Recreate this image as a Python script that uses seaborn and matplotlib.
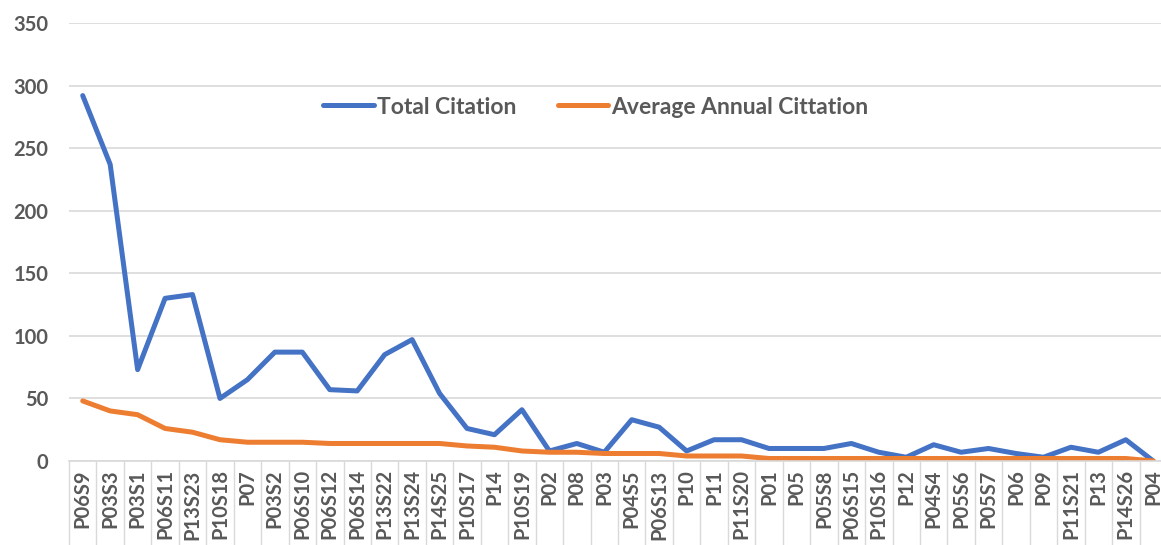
import numpy as np
import pandas as pd
import matplotlib
matplotlib.use("Agg")
import matplotlib.pyplot as plt
import seaborn as sns

categories = ["P06S9", "P03S3", "P03S1", "P06S11", "P13S23", "P10S18", "P07", "P03S2",
              "P06S10", "P06S12", "P06S14", "P13S22", "P13S24", "P14S25", "P10S17", "P14",
              "P10S19", "P02", "P08", "P03", "P04S5", "P06S13", "P10", "P11", "P11S20",
              "P01", "P05", "P05S8", "P06S15", "P10S16", "P12", "P04S4", "P05S6", "P05S7",
              "P06", "P09", "P11S21", "P13", "P14S26", "P04"]
total_citation = [292, 237, 73, 130, 133, 50, 65, 87, 87, 57, 56, 85, 97, 54, 26, 21,
                  41, 8, 14, 7, 33, 27, 8, 17, 17, 10, 10, 10, 14, 7, 3, 13, 7, 10,
                  6, 3, 11, 7, 17, 0]
avg_annual = [48, 40, 37, 26, 23, 17, 15, 15, 15, 14, 14, 14, 14, 14, 12, 11,
              8, 7, 7, 6, 6, 6, 4, 4, 4, 2, 2, 2, 2, 2, 2, 2, 2, 2,
              2, 2, 2, 2, 2, 0]
series_names = ["Total Citation", "Average Annual Cittation"]
y_ticks = [0, 50, 100, 150, 200, 250, 300, 350]

df = pd.DataFrame({
    "Paper": categories * 2,
    "Citations": total_citation + avg_annual,
    "Series": [series_names[0]] * len(categories) + [series_names[1]] * len(categories),
})
df["pos"] = list(range(len(categories))) * 2

sns.set_theme(style="white")
plt.rcParams["font.family"] = ["Lato", "DejaVu Sans"]
text_color = "#595959"
grid_color = "#d9d9d9"

fig = plt.figure(figsize=(11.61, 5.45), dpi=100)
ax = fig.add_axes([69 / 1161, 1 - 461 / 545, (1167 - 69) / 1161, (461 - 23) / 545])

sns.lineplot(data=df, x="pos", y="Citations", hue="Series",
             palette=["#4472C4", "#ED7D31"], linewidth=3.6, ax=ax,
             legend=True, sort=False)

ax.set_xlim(-0.5, len(categories) - 0.5)
ax.set_ylim(0, 350)
ax.set_yticks(y_ticks)
ax.set_yticklabels([str(v) for v in y_ticks], fontsize=14.5, fontweight="bold",
                   color=text_color)
ax.set_xticks(range(len(categories)))
ax.set_xticklabels(categories, rotation=90, fontsize=14.5, fontweight="bold",
                   color=text_color, va="top")
ax.set_xticks(np.arange(-0.5, len(categories), 1), minor=True)
ax.tick_params(axis="x", which="major", length=0, pad=6)
ax.tick_params(axis="x", which="minor", length=62, width=1, color=grid_color,
               direction="out", bottom=True)
ax.tick_params(axis="y", length=0, pad=15)
ax.set_xlabel("")
ax.set_ylabel("")

ax.yaxis.grid(True, color=grid_color, linewidth=1.2)
ax.set_axisbelow(True)
for side in ["top", "right", "left"]:
    ax.spines[side].set_visible(False)
ax.spines["bottom"].set_color(grid_color)
ax.spines["bottom"].set_linewidth(1.2)

handles, labels = ax.get_legend_handles_labels()
leg = ax.legend(handles, labels, loc="center",
                bbox_to_anchor=((596 - 69) / 1098, (461 - 107) / 438),
                ncol=2, frameon=False, handlelength=2.2, handletextpad=0.15,
                columnspacing=1.8, prop={"family": ["Lato", "DejaVu Sans"],
                                         "weight": "bold", "size": 16.5})
for t in leg.get_texts():
    t.set_color(text_color)
for line in leg.get_lines():
    line.set_linewidth(3.6)

fig.savefig("out.png", dpi=100)
